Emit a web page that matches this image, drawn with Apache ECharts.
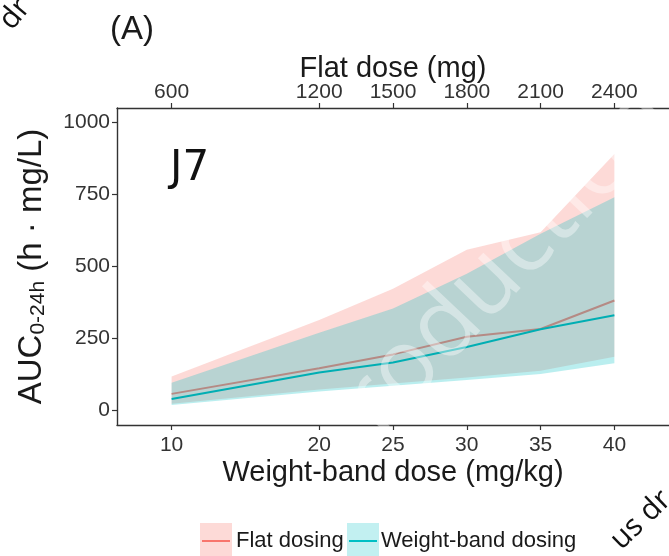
<!DOCTYPE html>
<html>
<head>
<meta charset="utf-8">
<script src="https://cdn.jsdelivr.net/npm/echarts@6/dist/echarts.min.js"></script>
<style>
  html, body { margin: 0; padding: 0; background: #fff; }
  #chart { width: 669px; height: 556px; }
</style>
</head>
<body>
<div id="chart"></div>
<script>
// Dose levels (mg/kg) and matching flat doses (mg)
const doseMgKg = [10, 20, 25, 30, 35, 40];
const flatDoseMg = [600, 1200, 1500, 1800, 2100, 2400];
const aucTicks = [0, 250, 500, 750, 1000];

// AUC0-24h median and interval bounds, flat dosing
const flatMedian = [58, 147, 195, 256, 283, 382];
const flatLower = [24, 73, 94, 115, 138, 187];
const flatUpper = [118, 314, 423, 558, 619, 890];

// AUC0-24h median and interval bounds, weight-band dosing
const wbMedian = [40, 132, 167, 221, 282, 331];
const wbLower = [19, 66, 86, 106, 127, 164];
const wbUpper = [97, 270, 354, 475, 614, 740];

const RED = '#F8766D';
const TEAL = '#00BFC4';
const BAND_ALPHA = 0.27;

function pairs(ys) { return doseMgKg.map((x, i) => [x, ys[i]]); }

// Shaded interval between lower and upper bounds, drawn as one polygon
function ribbonSeries(name, lower, upper, color, z) {
  return {
    name: name, type: 'custom', silent: true, clip: true, z: z,
    data: doseMgKg.map((x, i) => [x, lower[i], upper[i]]),
    encode: { x: 0, y: [1, 2] },
    renderItem: function (params, api) {
      if (params.dataIndex !== 0) return null;
      const top = doseMgKg.map((x, i) => api.coord([x, upper[i]]));
      const bottom = doseMgKg.map((x, i) => api.coord([x, lower[i]])).reverse();
      return {
        type: 'polygon',
        shape: { points: top.concat(bottom) },
        style: { fill: color, opacity: BAND_ALPHA }
      };
    }
  };
}

const axisColor = '#333333';
const labelColor = '#333333';
const FONT = 'Liberation Sans, Arial, sans-serif';
const plain = v => String(v);

const chart = echarts.init(document.getElementById('chart'), null, { renderer: 'canvas' });

chart.setOption({
  backgroundColor: '#ffffff',
  animation: false,
  textStyle: { fontFamily: FONT },
  grid: { left: 117, top: 108, right: -3, bottom: 131, containLabel: false },
  xAxis: [
    {
      type: 'value', position: 'bottom', min: 6.3, max: 43.7,
      axisLine: { show: true, onZero: false, lineStyle: { color: axisColor, width: 1.4 } },
      axisTick: { show: true, customValues: doseMgKg, length: 5, lineStyle: { color: axisColor, width: 1.2 } },
      axisLabel: { customValues: doseMgKg, formatter: plain, fontSize: 21, color: labelColor, margin: 10, fontFamily: FONT },
      splitLine: { show: false },
      name: 'Weight-band dose (mg/kg)', nameLocation: 'middle', nameGap: 33, nameMoveOverlap: false,
      nameTextStyle: { fontSize: 29, color: '#1a1a1a', fontFamily: FONT, verticalAlign: 'top' }
    },
    {
      type: 'value', position: 'top', min: 6.3 * 60, max: 43.7 * 60,
      axisLine: { show: true, onZero: false, lineStyle: { color: axisColor, width: 1.4 } },
      axisTick: { show: true, customValues: flatDoseMg, length: 5, lineStyle: { color: axisColor, width: 1.2 } },
      axisLabel: { customValues: flatDoseMg, formatter: plain, fontSize: 21, color: labelColor, margin: 5, fontFamily: FONT },
      splitLine: { show: false },
      name: 'Flat dose (mg)', nameLocation: 'middle', nameGap: 25, nameMoveOverlap: false,
      nameTextStyle: { fontSize: 29, color: '#1a1a1a', fontFamily: FONT, verticalAlign: 'bottom' }
    }
  ],
  yAxis: {
    type: 'value', min: -50, max: 1050,
    axisLine: { show: true, onZero: false, lineStyle: { color: axisColor, width: 1.4 } },
    axisTick: { show: true, customValues: aucTicks, length: 5, lineStyle: { color: axisColor, width: 1.2 } },
    axisLabel: { customValues: aucTicks, formatter: plain, fontSize: 21, color: labelColor, margin: 7, fontFamily: FONT },
    splitLine: { show: false },
    name: '{a|AUC}{s|0-24h}{a| (h · mg/L)}', nameLocation: 'middle', nameGap: 68, nameRotate: 90,
    nameTextStyle: {
      color: '#1a1a1a', fontFamily: FONT,
      rich: {
        a: { fontSize: 33, fontFamily: FONT, color: '#1a1a1a' },
        s: { fontSize: 21, fontFamily: FONT, color: '#1a1a1a', verticalAlign: 'bottom', padding: [14, 0, 0, 0] }
      }
    }
  },
  series: [
    ribbonSeries('flat-interval', flatLower, flatUpper, RED, 1),
    {
      name: 'Flat dosing', type: 'line', data: pairs(flatMedian), z: 2,
      symbol: 'none', lineStyle: { color: RED, width: 2 }
    },
    ribbonSeries('wb-interval', wbLower, wbUpper, TEAL, 3),
    {
      name: 'Weight-band dosing', type: 'line', data: pairs(wbMedian), z: 4,
      symbol: 'none', lineStyle: { color: '#00AEB3', width: 2 }
    }
  ],
  graphic: [
    { type: 'text', left: 110, top: 13, style: { text: '(A)', fontSize: 33, fill: '#1a1a1a', fontFamily: FONT } },
    { type: 'text', left: 170, top: 148, style: { text: 'J7', fontSize: 42, fill: '#111', fontFamily: 'DejaVu Sans, sans-serif' } },
    // legend keys
    { type: 'rect', shape: { x: 200, y: 523, width: 32, height: 34 }, style: { fill: 'rgba(248,118,109,' + BAND_ALPHA + ')' } },
    { type: 'line', shape: { x1: 202, y1: 541, x2: 230, y2: 541 }, style: { stroke: RED, lineWidth: 2 } },
    { type: 'text', x: 236, y: 541, style: { text: 'Flat dosing', fontSize: 22, fill: '#1a1a1a', fontFamily: FONT, verticalAlign: 'middle' } },
    { type: 'rect', shape: { x: 347, y: 523, width: 32, height: 34 }, style: { fill: 'rgba(0,191,196,0.24)' } },
    { type: 'line', shape: { x1: 349, y1: 541, x2: 377, y2: 541 }, style: { stroke: TEAL, lineWidth: 2 } },
    { type: 'text', x: 381, y: 541, style: { text: 'Weight-band dosing', fontSize: 22, fill: '#1a1a1a', fontFamily: FONT, verticalAlign: 'middle' } },
    // diagonal stamp text across the page, split so the letters sit on a fixed anchor
    { type: 'text', x: 466, y: 306, rotation: 46.5 * Math.PI / 180, z: 200,
      style: { text: 'rod', fontSize: 96, fill: 'rgba(255,255,255,0.4)', fontFamily: 'Open Sans, sans-serif', align: 'right', verticalAlign: 'middle' } },
    { type: 'text', x: 466, y: 306, rotation: 46.5 * Math.PI / 180, z: 200,
      style: { text: 'uction', fontSize: 96, fill: 'rgba(255,255,255,0.4)', fontFamily: 'Open Sans, sans-serif', align: 'left', verticalAlign: 'middle' } },
    { type: 'text', x: 15, y: 14, rotation: 50 * Math.PI / 180, z: 200,
      style: { text: 'dr', fontSize: 30, fill: '#111', fontFamily: 'Open Sans, sans-serif', align: 'center', verticalAlign: 'middle' } },
    { type: 'text', x: 641, y: 520, rotation: 44 * Math.PI / 180, z: 200,
      style: { text: 'us dr', fontSize: 30, fill: '#111', fontFamily: 'Open Sans, sans-serif', align: 'center', verticalAlign: 'middle' } }
  ]
});
</script>
</body>
</html>
